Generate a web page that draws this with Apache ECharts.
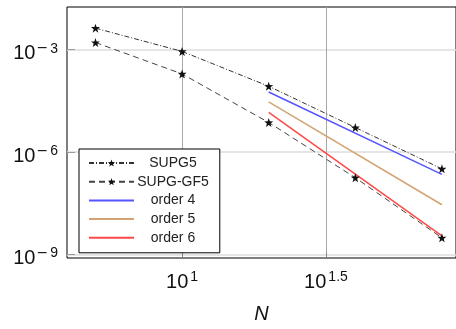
<!DOCTYPE html>
<html>
<head>
<meta charset="utf-8">
<script src="https://cdn.jsdelivr.net/npm/echarts@6/dist/echarts.min.js"></script>
<style>html,body{margin:0;padding:0;background:#fff}#c{width:456px;height:329px}</style>
</head>
<body>
<div id="c"></div>
<script>
// ---- data ----
var N = [5, 10, 20, 40, 80];
var supg5 = [4.27e-3, 8.9e-4, 8.5e-5, 5.25e-6, 3.24e-7];
var supgGF5 = [1.62e-3, 1.95e-4, 7.4e-6, 1.78e-7, 3.1e-9];
var orderN = [20, 80];
var order4 = [5.75e-5, 2.24e-7];
var order5 = [2.95e-5, 2.88e-8];
var order6 = [1.45e-5, 3.55e-9];
var xTicks = [10, 31.6227766];
var yTicks = [1e-9, 1e-6, 1e-3];
var names = ['SUPG5', 'SUPG-GF5', 'order 4', 'order 5', 'order 6'];

function pairs(xs, ys) { return xs.map(function (x, i) { return [x, ys[i]]; }); }
var star = 'path://M0,-10 L2.35,-3.24 L9.51,-3.09 L3.8,1.24 L5.88,8.09 L0,4 L-5.88,8.09 L-3.8,1.24 L-9.51,-3.09 L-2.35,-3.24 Z';
var rich = {
  b: { fontSize: 20, fontFamily: 'Liberation Sans', color: '#111', lineHeight: 22, verticalAlign: 'bottom' },
  m: { fontSize: 14, fontFamily: 'DejaVu Sans', color: '#111', lineHeight: 10, verticalAlign: 'top', padding: [0, 0, 0, 1] },
  s: { fontSize: 14, fontFamily: 'Liberation Sans', color: '#111', lineHeight: 10, verticalAlign: 'top', padding: [0, 0, 0, 2] }
};
function expLabel(v) {
  var e = Math.round(Math.log10(v) * 2) / 2;
  if (e < 0) return '{b|10}{m|\u2212}{s|' + String(-e) + '}';
  return '{b|10}{s|' + String(e) + '}';
}

var chart = echarts.init(document.getElementById('c'));
chart.setOption({
  animation: false,
  backgroundColor: '#fff',
  grid: { left: 67, top: 7, right: -2, bottom: 69, show: true, borderColor: '#000', borderWidth: 1, backgroundColor: 'transparent' },
  xAxis: {
    type: 'log', logBase: 10,
    min: Math.pow(10, 0.6), max: Math.pow(10, 1.952),
    name: 'N', nameLocation: 'middle', nameGap: 46,
    nameTextStyle: { fontSize: 20, fontStyle: 'italic', fontFamily: 'Liberation Sans', color: '#111' },
    axisLine: { show: false },
    axisTick: { show: true, inside: true, length: 6, lineStyle: { color: '#888' }, customValues: xTicks },
    axisLabel: { customValues: xTicks, formatter: expLabel, rich: rich, margin: 12 },
    splitLine: { show: true, lineStyle: { color: '#a8a8a8', width: 1 } },
    minorTick: { show: false }
  },
  yAxis: {
    type: 'log', logBase: 10,
    min: Math.pow(10, -9.1), max: Math.pow(10, -1.75),
    axisLine: { show: false },
    axisTick: { show: true, inside: true, length: 8, lineStyle: { color: '#999' }, customValues: yTicks },
    axisLabel: { customValues: yTicks, formatter: expLabel, rich: rich, margin: 9, padding: [6, 0, 0, 0] },
    splitLine: { show: true, lineStyle: { color: '#dcdcdc', width: 1.5 } }
  },
  legend: {
    orient: 'vertical', left: 79, top: 149,
    padding: [7, 11, 8, 9],
    itemWidth: 45, itemHeight: 9, itemGap: 4.7,
    borderColor: '#000', borderWidth: 1, backgroundColor: '#fff',
    data: [
      { name: names[0] },
      { name: names[1] },
      { name: names[2], itemStyle: { opacity: 0 } },
      { name: names[3], itemStyle: { opacity: 0 } },
      { name: names[4], itemStyle: { opacity: 0 } }
    ],
    formatter: function (n) { return '{c|' + n + '}'; },
    textStyle: { rich: { c: { width: 68, align: 'center', fontSize: 14, lineHeight: 14, fontFamily: 'Liberation Sans', color: '#222' } } }
  },
  series: [
    { name: names[0], type: 'line', data: pairs(N, supg5), symbol: star, symbolSize: 9,
      itemStyle: { color: '#111' }, lineStyle: { color: '#333', width: 1, type: [5, 2, 1, 2] }, z: 3 },
    { name: names[1], type: 'line', data: pairs(N, supgGF5), symbol: star, symbolSize: 9,
      itemStyle: { color: '#111' }, lineStyle: { color: '#444', width: 1, type: [6, 4] }, z: 3 },
    { name: names[2], type: 'line', data: pairs(orderN, order4), symbol: 'none',
      itemStyle: { color: '#5555ff' }, lineStyle: { color: '#5555ff', width: 1.5 } },
    { name: names[3], type: 'line', data: pairs(orderN, order5), symbol: 'none',
      itemStyle: { color: '#d4a373' }, lineStyle: { color: '#d4a373', width: 1.5 } },
    { name: names[4], type: 'line', data: pairs(orderN, order6), symbol: 'none',
      itemStyle: { color: '#ff4848' }, lineStyle: { color: '#ff4848', width: 1.5 } }
  ]
});
</script>
</body>
</html>
